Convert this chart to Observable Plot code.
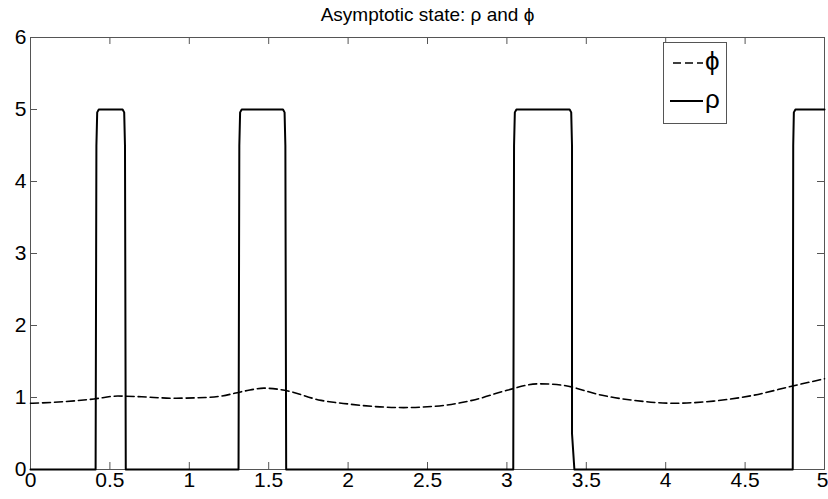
<!DOCTYPE html>
<html>
<head>
<meta charset="utf-8">
<script src="https://cdn.jsdelivr.net/npm/d3@7"></script>
<script src="https://cdn.jsdelivr.net/npm/@observablehq/plot@0.6"></script>
<style>
  html, body { margin: 0; padding: 0; background: #fff; }
  #wrap { position: relative; width: 828px; height: 499px; overflow: hidden; }
  #legend { position: absolute; left: 663px; top: 42px; width: 62px; height: 80px;
            border: 1px solid #555; background: #fff; }
</style>
</head>
<body>
<div id="wrap"><div id="chart"></div><div id="legend"></div></div>
<script>
// ---- data ----
const title = "Asymptotic state: \u03c1 and \u03d5";
const xTicks = [0, 0.5, 1, 1.5, 2, 2.5, 3, 3.5, 4, 4.5, 5];
const xLabelsMain = [0, 0.5, 1, 1.5, 2, 2.5, 3, 3.5, 4, 4.5];
const xLabelsEnd = [5];
const yTicks = [0, 1, 2, 3, 4, 5, 6];

// rho (solid): plateau profile
const rhoX = [0, 0.41, 0.415, 0.42, 0.43, 0.58, 0.59, 0.595, 0.60,
              1.31, 1.315, 1.32, 1.33, 1.59, 1.60, 1.605, 1.61,
              3.04, 3.045, 3.05, 3.06, 3.395, 3.405, 3.41, 3.41, 3.425,
              4.80, 4.803, 4.807, 4.817, 5.0];
const rhoY = [0, 0, 4.5, 4.96, 5, 5, 4.96, 4.5, 0,
              0, 4.5, 4.96, 5, 5, 4.96, 4.5, 0,
              0, 4.5, 4.96, 5, 5, 4.96, 4.5, 0.5, 0,
              0, 4.5, 4.96, 5, 5];

// phi (dashed)
const phiX = [0, 0.2, 0.4, 0.55, 0.7, 0.9, 1.1, 1.2, 1.35, 1.47, 1.6, 1.83, 2.0, 2.2, 2.35,
              2.6, 2.8, 3.0, 3.2, 3.35, 3.6, 3.8, 4.05, 4.3, 4.55, 4.8, 5.0];
const phiY = [0.92, 0.94, 0.98, 1.02, 1.01, 0.99, 1.0, 1.02, 1.09, 1.13, 1.10, 0.96, 0.91, 0.87, 0.86,
              0.89, 0.97, 1.10, 1.19, 1.17, 1.03, 0.96, 0.92, 0.95, 1.03, 1.16, 1.26];

const rho = rhoX.map((x, i) => ({x, y: rhoY[i]}));
const phi = phiX.map((x, i) => ({x, y: phiY[i]}));

const W = 828, H = 499, mL = 30, mR = 4, mT = 37, mB = 30;
const plotW = W - mL - mR, plotH = H - mT - mB, tickLen = 7;
const font = "'Liberation Sans', Arial, Helvetica, sans-serif";
const tickFont = 21;

const chart = Plot.plot({
  width: W, height: H,
  marginLeft: mL, marginRight: mR, marginTop: mT, marginBottom: mB,
  style: {fontFamily: font, background: "#fff", overflow: "visible"},
  x: {domain: [0, 5], nice: false},
  y: {domain: [0, 6], nice: false},
  marks: [
    Plot.frame({stroke: "#555"}),
    Plot.tickX(xTicks, {x: d => d, insetTop: plotH - tickLen, stroke: "#555"}),
    Plot.tickX(xTicks, {x: d => d, insetBottom: plotH - tickLen, stroke: "#555"}),
    Plot.tickY(yTicks, {y: d => d, insetRight: plotW - tickLen, stroke: "#555"}),
    Plot.tickY(yTicks, {y: d => d, insetLeft: plotW - tickLen, stroke: "#555"}),
    Plot.axisX(xLabelsMain, {tickSize: 0, tickPadding: 3, fontSize: tickFont, tickFormat: d => String(d), label: null, fill: "#000"}),
    Plot.axisX(xLabelsEnd, {tickSize: 0, tickPadding: 3, fontSize: tickFont, tickFormat: d => String(d), label: null, fill: "#000", textAnchor: "end", dx: 4}),
    Plot.axisY(yTicks, {tickSize: 0, tickPadding: 4, fontSize: tickFont, tickFormat: d => String(d), label: null, fill: "#000"}),
    Plot.line(phi, {x: "x", y: "y", stroke: "#000", strokeWidth: 1.6, strokeDasharray: "8,4", curve: "monotone-x"}),
    Plot.line(rho, {x: "x", y: "y", stroke: "#000", strokeWidth: 2, curve: "linear"}),
    Plot.text([title], {frameAnchor: "top", dy: -23, lineAnchor: "middle", fontSize: 19, fill: "#000", text: d => d})
  ]
});
document.getElementById("chart").appendChild(chart);

// legend
const ns = "http://www.w3.org/2000/svg";
const lg = document.createElementNS(ns, "svg");
lg.setAttribute("width", 62); lg.setAttribute("height", 80);
lg.style.display = "block";
const items = [
  {label: "\u03d5", dash: "8,4", y: 20},
  {label: "\u03c1", dash: null, y: 58}
];
items.forEach(it => {
  const l = document.createElementNS(ns, "line");
  l.setAttribute("x1", it.dash ? 9 : 6); l.setAttribute("x2", 39);
  l.setAttribute("y1", it.y); l.setAttribute("y2", it.y);
  l.setAttribute("stroke", "#000"); l.setAttribute("stroke-width", it.dash ? 1.6 : 2);
  if (it.dash) l.setAttribute("stroke-dasharray", it.dash);
  lg.appendChild(l);
  const t = document.createElementNS(ns, "text");
  t.setAttribute("x", 41); t.setAttribute("y", it.y + 7);
  t.setAttribute("font-family", font); t.setAttribute("font-size", 26);
  t.textContent = it.label;
  lg.appendChild(t);
});
document.getElementById("legend").appendChild(lg);
</script>
</body>
</html>
